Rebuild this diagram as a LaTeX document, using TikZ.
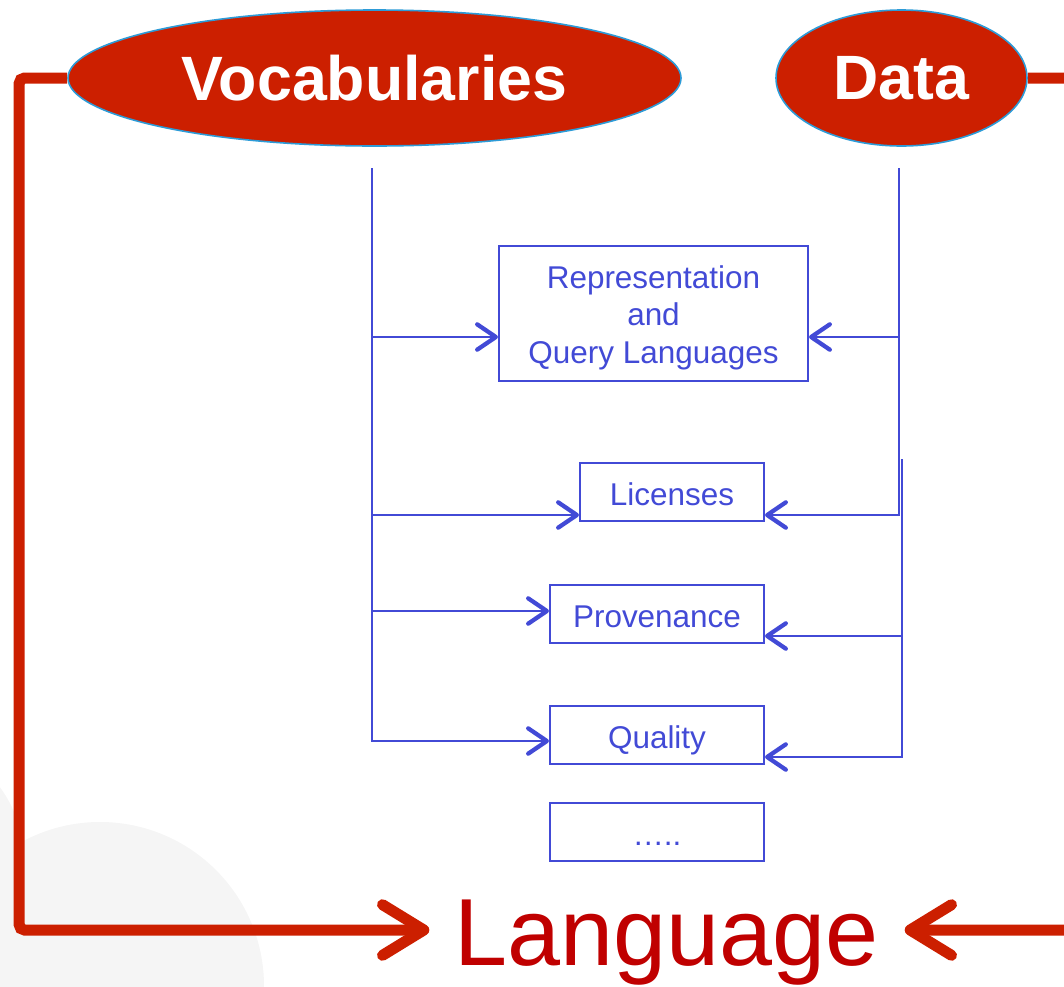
\documentclass[tikz,border=0pt]{standalone}
\usepackage{fontspec}
\setmainfont{Liberation Sans}
\usetikzlibrary{shapes.geometric,arrows.meta,calc}
\definecolor{ellred}{RGB}{204,31,0}
\definecolor{langred}{RGB}{192,0,0}
\definecolor{ellborder}{RGB}{45,155,215}
\definecolor{bblue}{RGB}{66,74,214}
\definecolor{bggrey}{RGB}{245,245,245}
\tikzset{
  topell/.style={ellipse, fill=ellred, draw=ellborder, line width=1.2pt, inner sep=0pt,
    text=white, font=\fontsize{47}{50}\selectfont\bfseries},
  bbox/.style={draw=bblue, line width=1.5pt, inner sep=0pt, text=bblue,
    font=\fontsize{23.6}{28.1}\selectfont, minimum height=43.5pt, minimum width=160.5pt,
    text height=22pt, text depth=2.5pt},
  bline/.style={draw=bblue, line width=1.5pt},
  barrow/.style={bline, -{Straight Barb[length=14pt,width=19pt,line width=3.2pt,line cap=round,line join=round]}},
  rline/.style={draw=ellred, line width=8.25pt, rounded corners=4pt,
    -{Straight Barb[length=31pt,width=38pt,line cap=round,line join=round]}},
}
\begin{document}
\begin{tikzpicture}[x=0.75pt,y=-0.75pt]
\useasboundingbox (0,0) rectangle (1064,986);
\clip (0,0) rectangle (1064,986);
% background shapes
\fill[bggrey] (100,986) circle[radius=164];
\fill[bggrey] (-94,857) circle[radius=117];
% top ellipses
\node[topell, minimum width=459.75pt, minimum height=102pt] (voc) at (374.5,78) {Vocabularies};
\node[topell, minimum width=188.25pt, minimum height=102pt] (data) at (901.5,78) {Data};
% bottom label
\node[text=langred, font=\fontsize{71.5}{75}\selectfont, inner xsep=19pt, inner ysep=0pt,
  text depth=0pt] (lang) at (667,933) {Language};
% blue boxes
\node[bbox, minimum width=231.75pt, minimum height=101.25pt, align=center, text height=, text depth=] (rep) at (653.5,313.5)
  {\rule{0pt}{23pt}Representation\\and\\Query Languages};
\node[bbox, minimum width=138pt] (lic) at (672,492) {Licenses};
\node[bbox] (prov) at (657,614) {Provenance};
\node[bbox] (qual) at (657,735) {Quality};
\node[bbox] (more) at (657,832) {\dots..};
% blue bus lines
\coordinate (vtop) at (372,168);
\coordinate (dtop) at (898.5,168);
\coordinate (dmid) at (901.5,459);
\draw[barrow] (vtop) |- ($(qual.west)+(0,6)$);
\draw[barrow] ($(vtop |- rep.west)+(0,23.5)$) -- ($(rep.west)+(0,23.5)$);
\draw[barrow] ($(vtop |- lic.west)+(0,23)$) -- ($(lic.west)+(0,23)$);
\draw[barrow] ($(vtop |- prov.west)+(0,-3)$) -- ($(prov.west)+(0,-3)$);
\draw[barrow] ($(dtop |- rep.east)+(0,23.5)$) -- ($(rep.east)+(0,23.5)$);
\draw[barrow] (dtop) |- ($(lic.east)+(0,23)$);
\draw[barrow] ($(dmid |- prov.east)+(0,22)$) -- ($(prov.east)+(0,22)$);
\draw[barrow] (dmid) |- ($(qual.east)+(0,22)$);
% red connectors
\draw[rline] (voc.west) -- ++(-48,0) |- ($(lang.west)+(0,-3)$);
\draw[rline] (data.east) -- ++(70,0) |- ($(lang.east)+(0,-3)$);
\end{tikzpicture}
\end{document}
